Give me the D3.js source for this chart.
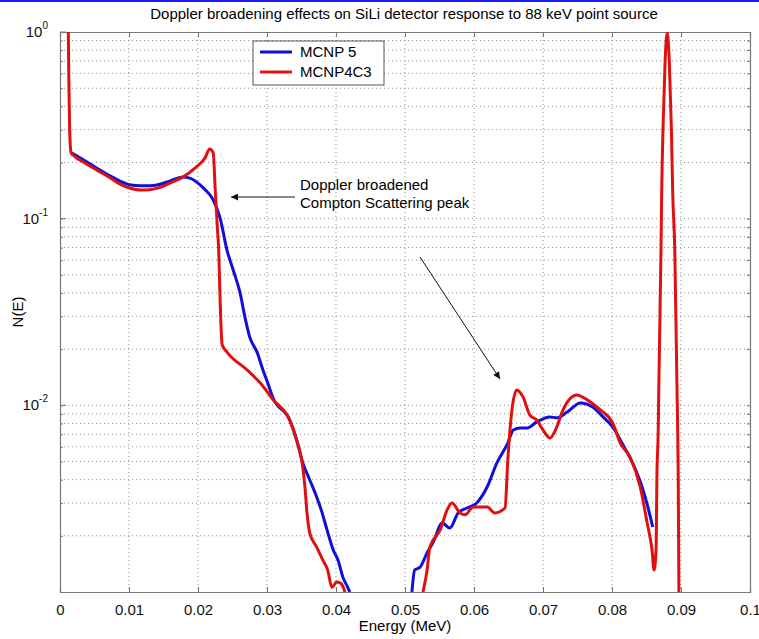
<!DOCTYPE html>
<html>
<head>
<meta charset="utf-8">
<script src="https://cdn.jsdelivr.net/npm/d3@7"></script>
<style>
  body { margin: 0; background: #fff; }
  svg { display: block; font-family: "Liberation Sans", Arial, sans-serif; }
</style>
</head>
<body>
<svg width="759" height="639"></svg>
<script>
const svg = d3.select('svg');

const title = 'Doppler broadening effects on SiLi detector response to 88 keV point source';
const xTicks = [0, 0.01, 0.02, 0.03, 0.04, 0.05, 0.06, 0.07, 0.08, 0.09, 0.1];
const xTickLabels = ['0', '0.01', '0.02', '0.03', '0.04', '0.05', '0.06', '0.07', '0.08', '0.09', '0.1'];
const yDecades = [0, -1, -2];
const seriesNames = ['MCNP 5', 'MCNP4C3'];

// MCNP 5 (blue), two pieces because it drops below 1e-3 in between
const blueE1 = [0.0017, 0.0029, 0.0044, 0.0058, 0.0073, 0.0087, 0.0101, 0.0116, 0.0130, 0.0145, 0.0159, 0.0178, 0.0188, 0.0207, 0.0222, 0.0232, 0.0242, 0.0251, 0.0261, 0.0268, 0.0275, 0.0286, 0.0294, 0.0301, 0.0309, 0.0333, 0.0343, 0.0352, 0.0362, 0.0372, 0.0380, 0.0387, 0.0396, 0.0403, 0.0410, 0.0417, 0.0420];
const blueN1 = [0.225, 0.212, 0.196, 0.182, 0.169, 0.159, 0.152, 0.150, 0.150, 0.153, 0.159, 0.167, 0.165, 0.147, 0.126, 0.101, 0.0679, 0.0531, 0.0400, 0.0297, 0.0232, 0.0191, 0.0155, 0.0132, 0.0109, 0.00834, 0.00652, 0.0049, 0.00398, 0.00323, 0.00265, 0.00215, 0.00168, 0.00148, 0.00120, 0.00106, 0.001];
const blueE2 = [0.0510, 0.0514, 0.0522, 0.0532, 0.0541, 0.0554, 0.0565, 0.0577, 0.0590, 0.0604, 0.0619, 0.0633, 0.0649, 0.0657, 0.0667, 0.0677, 0.0691, 0.0710, 0.0720, 0.0735, 0.0754, 0.0772, 0.0787, 0.0801, 0.0816, 0.0830, 0.0845, 0.0852, 0.0859];
const blueN2 = [0.001, 0.00131, 0.00136, 0.00162, 0.00185, 0.00234, 0.0022, 0.00265, 0.00282, 0.00300, 0.00365, 0.0049, 0.00628, 0.00738, 0.00756, 0.00756, 0.00815, 0.00867, 0.00857, 0.0092, 0.0103, 0.0098, 0.00867, 0.00766, 0.00613, 0.0049, 0.00352, 0.00285, 0.00223];

// MCNP4C3 (red)
const redE1 = [0.0012, 0.0013, 0.0014, 0.0016, 0.0019, 0.0029, 0.0044, 0.0058, 0.0073, 0.0087, 0.0101, 0.0116, 0.0130, 0.0145, 0.0159, 0.0178, 0.0196, 0.0210, 0.0217, 0.0222, 0.0225, 0.0228, 0.0230, 0.0232, 0.0235, 0.0242, 0.0271, 0.0290, 0.0309, 0.0333, 0.0343, 0.0351, 0.0355, 0.0358, 0.0362, 0.0372, 0.0381, 0.0388, 0.0394, 0.0401, 0.0406, 0.0409, 0.0413];
const redN1 = [1.0, 0.49, 0.30, 0.226, 0.219, 0.206, 0.191, 0.178, 0.165, 0.153, 0.146, 0.1425, 0.143, 0.147, 0.155, 0.167, 0.187, 0.211, 0.236, 0.225, 0.142, 0.090, 0.068, 0.037, 0.0211, 0.0193, 0.0155, 0.0132, 0.0107, 0.0083, 0.0065, 0.0049, 0.00365, 0.00265, 0.00207, 0.00174, 0.00148, 0.00131, 0.00106, 0.00113, 0.00112, 0.00109, 0.001];
const redE2 = [0.0526, 0.0532, 0.0536, 0.0551, 0.0561, 0.0568, 0.0580, 0.0587, 0.0599, 0.0619, 0.0630, 0.0645, 0.0649, 0.0655, 0.0662, 0.0671, 0.0681, 0.0691, 0.0700, 0.0710, 0.0720, 0.0729, 0.0749, 0.0764, 0.0778, 0.0783, 0.0801, 0.0812, 0.0826, 0.0841, 0.0851, 0.0858, 0.0861, 0.0864, 0.0865, 0.0867, 0.0868, 0.0871, 0.0872, 0.0874, 0.0877, 0.0880, 0.0883, 0.0886, 0.0888, 0.0891, 0.0894, 0.0896, 0.0897];
const redN2 = [0.001, 0.00131, 0.00174, 0.00215, 0.00275, 0.00300, 0.00265, 0.00259, 0.00285, 0.00285, 0.00265, 0.00282, 0.00509, 0.00945, 0.0121, 0.0111, 0.00887, 0.00834, 0.00738, 0.00668, 0.00766, 0.00945, 0.01136, 0.0107, 0.0098, 0.00945, 0.00804, 0.00628, 0.00529, 0.00365, 0.00234, 0.00168, 0.00131, 0.00174, 0.00398, 0.0074, 0.0137, 0.0679, 0.137, 0.31, 0.70, 0.99, 0.70, 0.31, 0.137, 0.0679, 0.0137, 0.00398, 0.001];

const annText = ['Doppler broadened', 'Compton Scattering peak'];

const zip = (xs, ys) => xs.map((x, i) => ({ E: x, N: ys[i] }));
const series = [
  { name: seriesNames[0], color: '#1010d8', parts: [zip(blueE1, blueN1), zip(blueE2, blueN2)] },
  { name: seriesNames[1], color: '#e01010', parts: [zip(redE1, redN1), zip(redE2, redN2)] }
];

const fontSize = 15;
const margin = { top: 32, right: 9, bottom: 47, left: 60 };
const width = 759, height = 639;
const innerWidth = width - margin.left - margin.right;
const innerHeight = height - margin.top - margin.bottom;

// thin blue rule at the very top of the picture
svg.append('rect').attr('x', 0).attr('y', 0).attr('width', width).attr('height', 2).attr('fill', '#1a1aff');

svg.append('text')
  .attr('x', 404).attr('y', 19)
  .attr('text-anchor', 'middle')
  .attr('font-size', fontSize)
  .text(title);

const g = svg.append('g').attr('transform', `translate(${margin.left},${margin.top})`);

const xScale = d3.scaleLinear().domain([0, 0.1]).range([0, innerWidth]);
const yScale = d3.scaleLog().domain([1e-3, 1]).range([innerHeight, 0]);

const minorY = [];
[-3, -2, -1].forEach(p => {
  for (let k = 1; k <= 9; k++) minorY.push(k * Math.pow(10, p));
});
minorY.push(1);

// grid
const gridColor = '#8f8f8f';
g.append('g').selectAll('line').data(xTicks.slice(1, -1)).enter().append('line')
  .attr('x1', d => xScale(d)).attr('x2', d => xScale(d))
  .attr('y1', 0).attr('y2', innerHeight)
  .attr('stroke', gridColor).attr('stroke-width', 1).attr('stroke-dasharray', '1,3');
g.append('g').selectAll('line').data(minorY.filter(d => d > 1.01e-3 && d < 0.999)).enter().append('line')
  .attr('x1', 0).attr('x2', innerWidth)
  .attr('y1', d => yScale(d)).attr('y2', d => yScale(d))
  .attr('stroke', gridColor).attr('stroke-width', 1).attr('stroke-dasharray', '1,3');

// axes (box with inward ticks)
const axisColor = '#777';
const xBottom = d3.axisBottom(xScale).tickValues(xTicks).tickSize(-5).tickPadding(12)
  .tickFormat((d, i) => xTickLabels[i]);
const xTop = d3.axisTop(xScale).tickValues(xTicks).tickSize(-5).tickFormat('');
const yLeft = d3.axisLeft(yScale).tickValues(minorY).tickSize(-3).tickFormat('');
const yRight = d3.axisRight(yScale).tickValues(minorY).tickSize(-3).tickFormat('');

const styleAxis = (sel) => {
  sel.selectAll('.domain').attr('stroke', axisColor).attr('stroke-width', 1.2);
  sel.selectAll('.tick line').attr('stroke', axisColor);
  sel.selectAll('.tick text').filter(function () { return this.textContent === ''; }).remove();
  sel.selectAll('.tick text').attr('fill', '#111').attr('font-size', fontSize).attr('font-family', '"Liberation Sans", Arial, sans-serif');
};

g.append('g').attr('transform', `translate(0,${innerHeight})`).call(xBottom).call(styleAxis);
g.append('g').call(xTop).call(styleAxis);
g.append('g').call(yLeft).call(styleAxis);
g.append('g').attr('transform', `translate(${innerWidth},0)`).call(yRight).call(styleAxis);

// major y ticks a bit longer
g.append('g').selectAll('line').data(yDecades).enter().append('line')
  .attr('x1', 0).attr('x2', 6)
  .attr('y1', d => yScale(Math.pow(10, d))).attr('y2', d => yScale(Math.pow(10, d)))
  .attr('stroke', axisColor);

// y tick labels 10^p
const yLab = g.append('g');
yDecades.forEach(p => {
  const t = yLab.append('text')
    .attr('x', -12).attr('y', yScale(Math.pow(10, p)) + 5)
    .attr('text-anchor', 'end')
    .attr('font-size', fontSize).attr('fill', '#111');
  t.append('tspan').text('10');
  t.append('tspan').attr('dy', -8).attr('font-size', 10).text(String(p));
});

// axis labels
svg.append('text')
  .attr('x', margin.left + innerWidth / 2).attr('y', 631)
  .attr('text-anchor', 'middle').attr('font-size', fontSize)
  .text('Energy (MeV)');
svg.append('text')
  .attr('transform', `translate(23,${312}) rotate(-90)`)
  .attr('text-anchor', 'middle').attr('font-size', fontSize)
  .text('N(E)');

// curves
g.append('clipPath').attr('id', 'clip').append('rect')
  .attr('x', 0).attr('y', 0).attr('width', innerWidth).attr('height', innerHeight);

const line = d3.line().x(d => xScale(d.E)).y(d => yScale(d.N)).curve(d3.curveMonotoneX);
const curves = g.append('g').attr('clip-path', 'url(#clip)');
series.forEach(s => {
  s.parts.forEach(p => {
    curves.append('path')
      .datum(p)
      .attr('d', line)
      .attr('fill', 'none')
      .attr('stroke', s.color)
      .attr('stroke-width', 3)
      .attr('stroke-linejoin', 'round');
  });
});

// legend
const legendG = svg.append('g').attr('transform', 'translate(253,41)');
legendG.append('rect')
  .attr('width', 131).attr('height', 44)
  .attr('fill', '#fff').attr('stroke', '#555').attr('stroke-width', 1);
series.forEach((s, i) => {
  legendG.append('line')
    .attr('x1', 7).attr('x2', 39)
    .attr('y1', 11 + i * 20).attr('y2', 11 + i * 20)
    .attr('stroke', s.color).attr('stroke-width', 3);
  legendG.append('text')
    .attr('x', 47).attr('y', 16 + i * 20)
    .attr('font-size', fontSize)
    .text(s.name);
});

// annotations
const defs = svg.append('defs');
defs.append('marker')
  .attr('id', 'arrow')
  .attr('viewBox', '0 0 10 10')
  .attr('refX', 10).attr('refY', 5)
  .attr('markerWidth', 10).attr('markerHeight', 7)
  .attr('markerUnits', 'userSpaceOnUse')
  .attr('orient', 'auto')
  .append('path').attr('d', 'M0,0 L10,5 L0,10 z').attr('fill', '#111');

annText.forEach((t, i) => {
  svg.append('text')
    .attr('x', 300).attr('y', 190 + i * 18)
    .attr('font-size', fontSize)
    .text(t);
});
svg.append('line')
  .attr('x1', 295).attr('y1', 197).attr('x2', 231).attr('y2', 197)
  .attr('stroke', '#111').attr('stroke-width', 1)
  .attr('marker-end', 'url(#arrow)');
svg.append('line')
  .attr('x1', 420).attr('y1', 257).attr('x2', 500).attr('y2', 379)
  .attr('stroke', '#111').attr('stroke-width', 1)
  .attr('marker-end', 'url(#arrow)');
</script>
</body>
</html>
